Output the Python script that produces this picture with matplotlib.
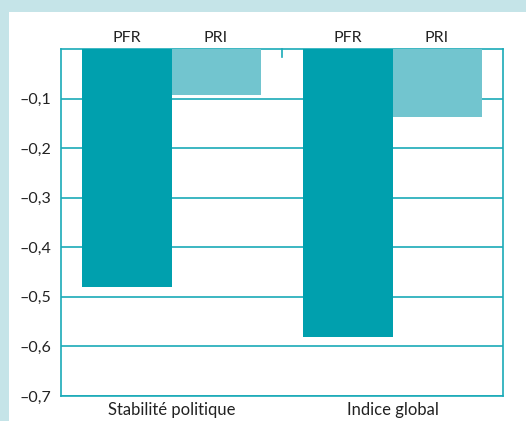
import matplotlib.pyplot as plt
from matplotlib.patches import Rectangle
import numpy as np

categories = ['Stabilité politique', 'Indice global']
series = ['PFR', 'PRI']
pfr = [-0.48, -0.58]
pri = [-0.093, -0.137]
yticks = [-0.1, -0.2, -0.3, -0.4, -0.5, -0.6, -0.7]

dark = '#00a0ae'
light = '#72c5cf'
line = '#1aaab8'

plt.rcParams['font.family'] = ['Lato', 'DejaVu Sans']

fig = plt.figure(figsize=(5.26, 4.21), dpi=100, facecolor='#c5e4e8')
W, H = 526, 421
fig.patches.append(Rectangle((9 / W, 0), 1 - 9 / W, 1 - 12 / H,
                             transform=fig.transFigure, facecolor='white',
                             edgecolor='none', zorder=-5))
ax = fig.add_axes([61 / W, 1 - 396 / H, (503 - 61) / W, (396 - 49) / H])
ax.set_facecolor('white')

x = np.arange(len(categories))
w = 0.403
ax.bar(x - w / 2, pfr, w, color=dark, zorder=3)
ax.bar(x + w / 2, pri, w, color=light, zorder=3)

ax.set_xlim(-0.5, 1.5)
ax.set_ylim(-0.7, 0)
ax.set_yticks(yticks)
ax.set_yticklabels([('%.1f' % v).replace('-', '\u2013').replace('.', ',') for v in yticks])
ax.yaxis.grid(True, color=line, linewidth=1.2, zorder=1)
ax.tick_params(axis='y', length=0, pad=7, labelsize=11.5, labelcolor='#222222')
ax.set_xticks(x)
ax.set_xticklabels(categories)
ax.tick_params(axis='x', length=0, pad=4, labelsize=12, labelcolor='#222222')
for s in ax.spines.values():
    s.set_color(line)
    s.set_linewidth(1.2)

# separator tick at top
ax.plot([0.5, 0.5], [0, -0.016], color=line, linewidth=1.2, clip_on=False, zorder=4)

for i in x:
    ax.text(i - w / 2, 0.008, series[0], ha='center', va='bottom', fontsize=11.5, color='#222222')
    ax.text(i + w / 2, 0.008, series[1], ha='center', va='bottom', fontsize=11.5, color='#222222')

fig.savefig('out.png', dpi=100, facecolor=fig.get_facecolor())
